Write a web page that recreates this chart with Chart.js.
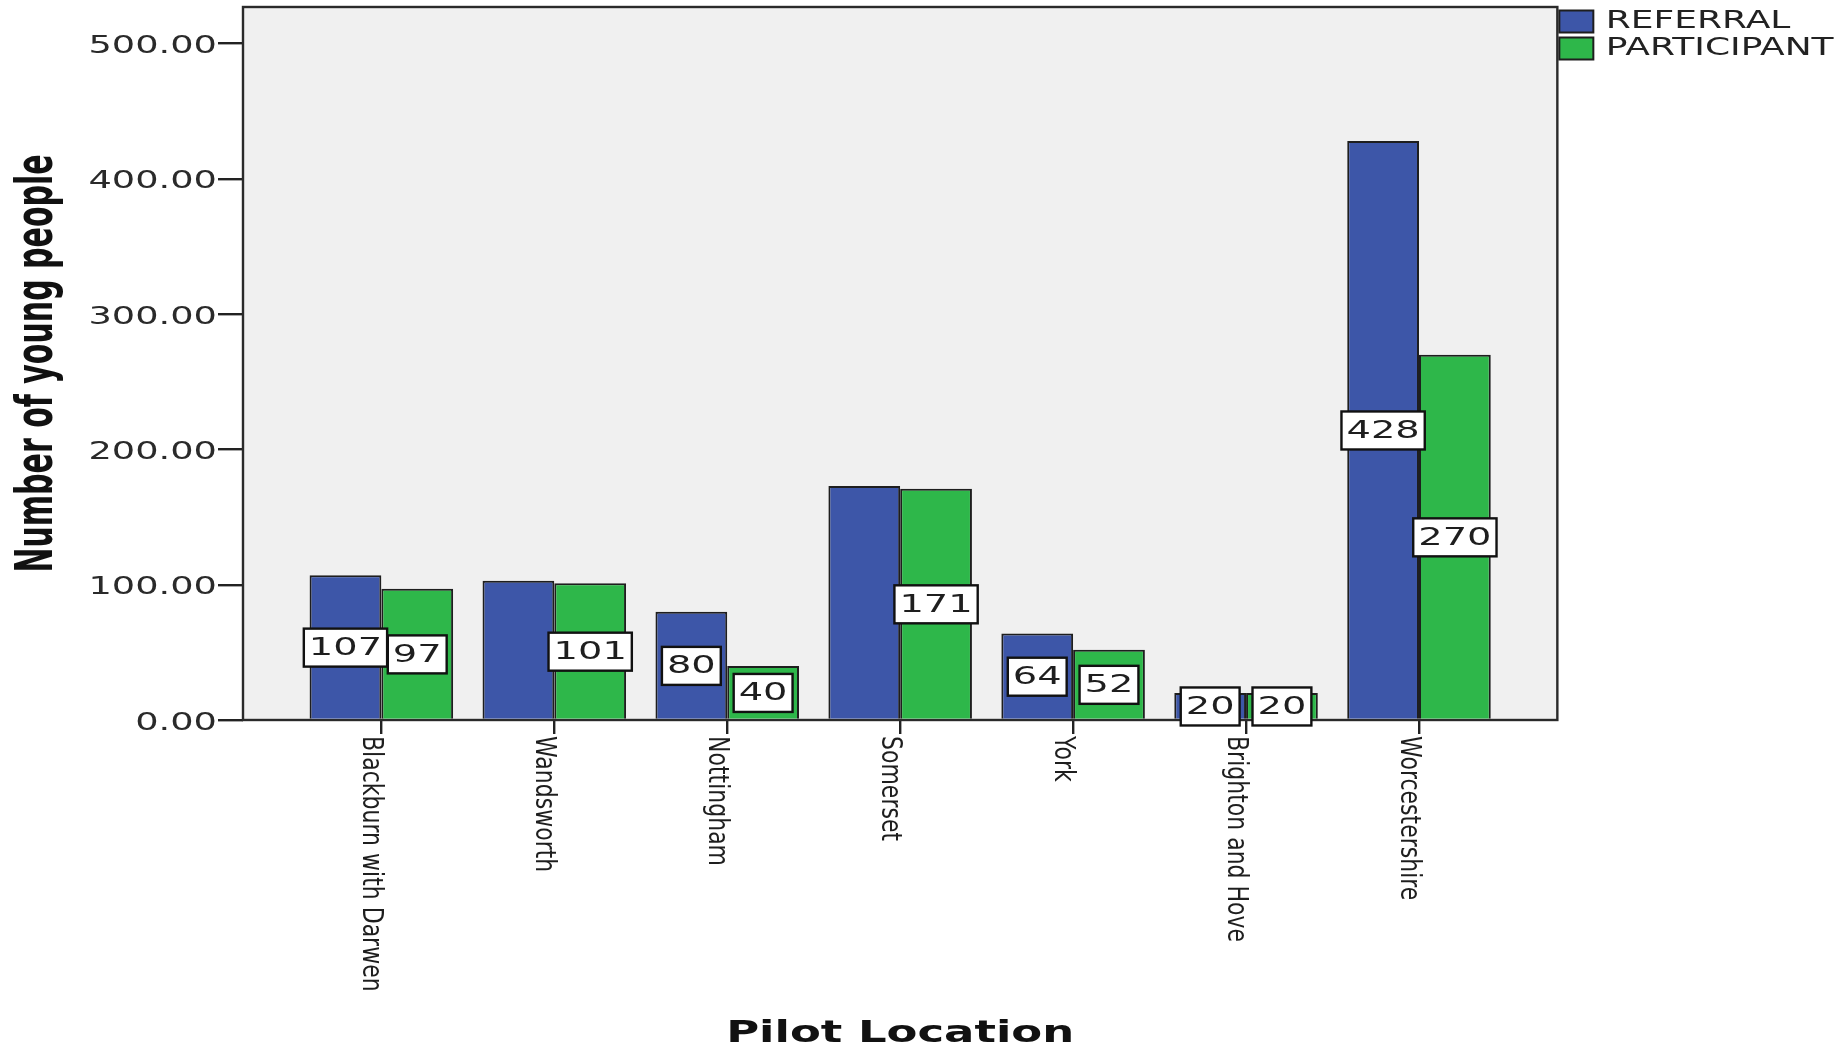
<!DOCTYPE html>
<html>
<head>
<meta charset="utf-8">
<script src="https://cdn.jsdelivr.net/npm/chart.js@4/dist/chart.umd.min.js"></script>
<style>
  html, body { margin: 0; padding: 0; background: #ffffff; }
  #wrap { width: 1843px; height: 1049px; }
</style>
</head>
<body>
<div id="wrap"><canvas id="c" width="1843" height="1049"></canvas></div>
<script>
// ---- data ----
const categories = ['Blackburn with Darwen', 'Wandsworth', 'Nottingham', 'Somerset', 'York', 'Brighton and Hove', 'Worcestershire'];
const seriesNames = ['REFERRAL', 'PARTICIPANT'];
const referral = [107, 103, 80, 173, 64, 20, 428];
const participant = [97, 101, 40, 171, 52, 20, 270];
const yTicks = [0, 100, 200, 300, 400, 500];
const xTitle = 'Pilot Location';
const yTitle = 'Number of young people';

// ---- styling ----
const FONT = "'DejaVu Sans', Verdana, sans-serif";
const BLUE = '#3D56A8';
const GREEN = '#2EB74A';
const EDGE = '#1e1e1e';

// Text in the reference is widened horizontally (screen x); emulate with a
// horizontal stretch of each drawn string about its own anchor point.
function installStretch(ctx) {
  if (ctx.__stretchInstalled) return;
  const orig = ctx.fillText;
  ctx.__stretch = 1;
  ctx.fillText = function (text, x, y, maxWidth) {
    const k = ctx.__stretch || 1;
    const call = () => (maxWidth === undefined ? orig.call(ctx, text, x, y) : orig.call(ctx, text, x, y, maxWidth));
    if (k === 1) return call();
    const m = ctx.getTransform();
    const ax = m.a * x + m.c * y + m.e;
    const ay = m.b * x + m.d * y + m.f;
    ctx.save();
    ctx.setTransform(new DOMMatrix().translate(ax, ay).scale(k, 1).translate(-ax, -ay).multiply(m));
    call();
    ctx.restore();
  };
  ctx.__stretchInstalled = true;
}

function wrapStretch(obj, method, k) {
  if (!obj || obj['__st_' + method]) return;
  const orig = obj[method];
  obj[method] = function (...args) {
    const ctx = this.ctx;
    const prev = ctx.__stretch;
    ctx.__stretch = k;
    try { return orig.apply(this, args); } finally { ctx.__stretch = prev; }
  };
  obj['__st_' + method] = true;
}

const LEGEND_K = 1.44;
const stretchPlugin = {
  id: 'stretch',
  afterInit(chart) { installStretch(chart.ctx); },
  beforeLayout(chart) {
    const lg = chart.legend;
    if (lg && !lg.__fitWrapped) {
      const origFit = lg.fit;
      lg.fit = function (...args) {
        const r = origFit.apply(this, args);
        // room for the widened legend text
        this.width = Math.min(this.maxWidth || Infinity, this.width + 69);
        return r;
      };
      lg.__fitWrapped = true;
    }
  },
  beforeDraw(chart) {
    installStretch(chart.ctx);
    wrapStretch(chart.scales.y, 'drawLabels', 1.47);
    wrapStretch(chart.scales.y, 'drawTitle', 1.7);
    wrapStretch(chart.scales.x, 'drawTitle', 1.45);
    wrapStretch(chart.legend, 'draw', LEGEND_K);
  }
};

const framePlugin = {
  id: 'frame',
  beforeDatasetsDraw(chart) {
    const {ctx, chartArea: a} = chart;
    ctx.save();
    ctx.fillStyle = '#f0f0f0';
    ctx.fillRect(a.left, a.top, a.right - a.left, a.bottom - a.top);
    ctx.lineWidth = 2.4;
    ctx.strokeStyle = '#2a2a2a';
    ctx.strokeRect(a.left, a.top, a.right - a.left, a.bottom - a.top);
    ctx.restore();
  }
};

const xLabelPlugin = {
  id: 'xLabels',
  afterDraw(chart) {
    const {ctx} = chart;
    const xs = chart.scales.x;
    ctx.save();
    ctx.font = '22px ' + FONT;
    ctx.fillStyle = '#1e1e1e';
    ctx.textAlign = 'left';
    ctx.textBaseline = 'alphabetic';
    const prev = ctx.__stretch;
    ctx.__stretch = 1.3;
    categories.forEach((name, i) => {
      const px = xs.getPixelForValue(i);
      ctx.save();
      ctx.translate(px - 18, xs.top + 16);
      ctx.rotate(Math.PI / 2);
      ctx.fillText(name, 0, 0);
      ctx.restore();
    });
    ctx.__stretch = prev;
    ctx.restore();
  }
};

const valueBoxPlugin = {
  id: 'valueBoxes',
  afterDatasetsDraw(chart) {
    const {ctx} = chart;
    const ys = chart.scales.y;
    const k = 1.6;
    const placed = [];
    ctx.save();
    ctx.font = '24px ' + FONT;
    ctx.textAlign = 'center';
    ctx.textBaseline = 'middle';
    const prev = ctx.__stretch;
    [1, 0].forEach(di => {
      const meta = chart.getDatasetMeta(di);
      const ds = chart.data.datasets[di];
      meta.data.forEach((bar, i) => {
        const v = ds.data[i].y;
        const text = String(v);
        const w = ctx.measureText(text).width * k + 10, h = 38;
        const cx = bar.x, cy = ys.getPixelForValue(v / 2);
        const box = {l: cx - w / 2, r: cx + w / 2, t: cy - h / 2, b: cy + h / 2};
        const clash = placed.some(p =>
          Math.min(p.r, box.r) - Math.max(p.l, box.l) > 8 &&
          Math.min(p.b, box.b) - Math.max(p.t, box.t) > 8);
        if (clash) return;
        placed.push(box);
        ctx.fillStyle = '#ffffff';
        ctx.fillRect(box.l, box.t, w, h);
        ctx.lineWidth = 2.4;
        ctx.strokeStyle = '#111111';
        ctx.strokeRect(box.l, box.t, w, h);
        ctx.fillStyle = '#1e1e1e';
        ctx.__stretch = k;
        ctx.fillText(text, cx, cy + 1);
        ctx.__stretch = prev;
      });
    });
    ctx.restore();
  }
};

const toXY = arr => arr.map((v, i) => ({x: i, y: v}));

new Chart(document.getElementById('c'), {
  type: 'bar',
  data: {
    datasets: [
      {label: seriesNames[0], data: toXY(referral), backgroundColor: BLUE, borderColor: EDGE, borderWidth: 2},
      {label: seriesNames[1], data: toXY(participant), backgroundColor: GREEN, borderColor: EDGE, borderWidth: 2}
    ]
  },
  options: {
    responsive: false,
    animation: false,
    events: [],
    devicePixelRatio: 1,
    layout: {padding: {top: 7, right: 0, bottom: 0, left: 0}},
    datasets: {bar: {categoryPercentage: 0.83, barPercentage: 1.0}},
    plugins: {
      tooltip: {enabled: false},
      legend: {
        position: 'right',
        align: 'start',
        labels: {
          font: {family: FONT, size: 25},
          color: '#222222',
          boxWidth: 34,
          boxHeight: 22,
          padding: 2
        }
      }
    },
    scales: {
      x: {
        type: 'linear',
        min: -0.8,
        max: 6.8,
        offset: false,
        afterBuildTicks: s => { s.ticks = categories.map((c, i) => ({value: i})); },
        afterFit: s => { s.height = 329; s.paddingLeft = 0; s.paddingRight = 0; },
        ticks: {display: false},
        grid: {offset: false, drawOnChartArea: false, drawTicks: true, tickLength: 14, color: '#222222', lineWidth: 2.4},
        border: {display: false},
        title: {
          display: true, text: xTitle, color: '#111111',
          font: {family: FONT, size: 31, weight: 'bold', lineHeight: 1},
          padding: {top: 0, bottom: 0}
        }
      },
      y: {
        min: 0,
        max: 527,
        afterBuildTicks: s => { s.ticks = yTicks.map(v => ({value: v})); },
        afterFit: s => { s.width = 243; s.paddingTop = 0; s.paddingBottom = 0; },
        ticks: {
          font: {family: FONT, size: 25},
          color: '#2a2a2a',
          padding: 1,
          labelOffset: 3,
          callback: v => Number(v).toFixed(2)
        },
        grid: {drawOnChartArea: false, drawTicks: true, tickLength: 25, color: '#222222', lineWidth: 2.4},
        border: {display: false},
        title: {
          display: true, text: yTitle, color: '#111111',
          font: {family: FONT, size: 30, weight: 'bold', lineHeight: 1.2},
          padding: {top: 21, bottom: 0}
        }
      }
    }
  },
  plugins: [stretchPlugin, framePlugin, valueBoxPlugin, xLabelPlugin]
});
</script>
</body>
</html>
